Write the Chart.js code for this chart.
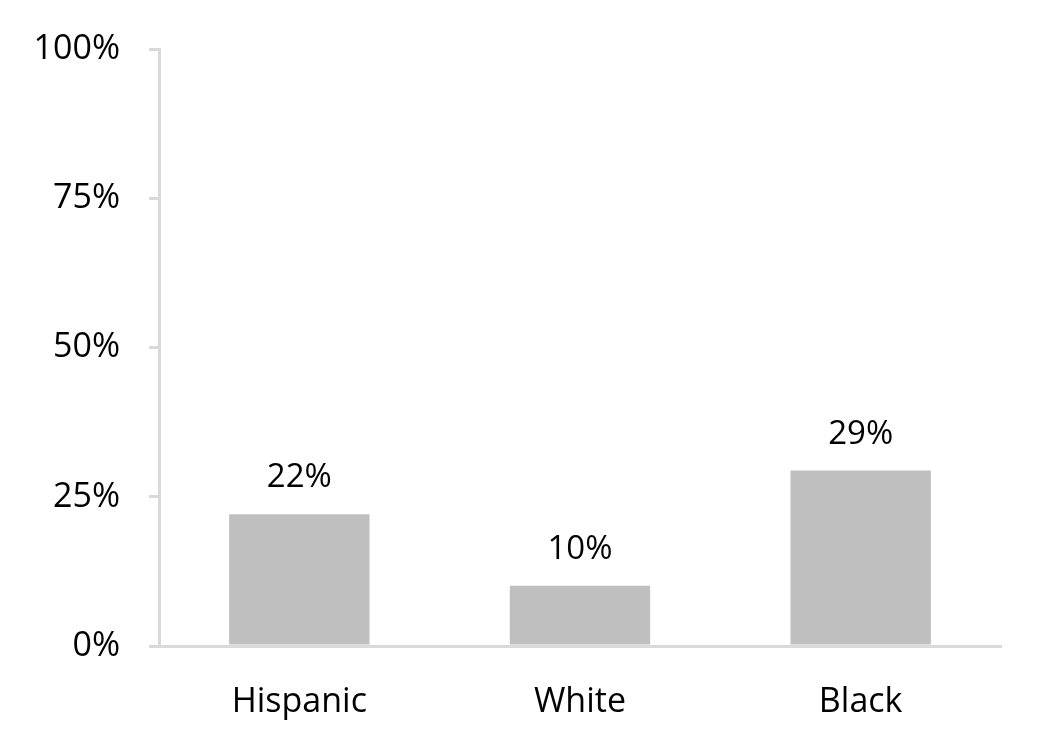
<!DOCTYPE html>
<html>
<head>
<meta charset="utf-8">
<script src="https://cdn.jsdelivr.net/npm/chart.js@4/dist/chart.umd.min.js"></script>
<style>
html,body{margin:0;padding:0;background:#fff;}
#wrap{width:1046px;height:747px;position:relative;}
</style>
</head>
<body>
<div id="wrap"><canvas id="c" width="1046" height="747"></canvas></div>
<script>
const categories = ["Hispanic", "White", "Black"];
const values = [22.1, 10.1, 29.4];
const valueLabels = ["22%", "10%", "29%"];
const yTicks = [0, 25, 50, 75, 100];

const FONT = "'Open Sans', sans-serif";
const AXIS = "#d9d9d9";

const labelPlugin = {
  id: "valueLabels",
  afterDatasetsDraw(chart) {
    const ctx = chart.ctx;
    const meta = chart.getDatasetMeta(0);
    ctx.save();
    ctx.font = "33px " + FONT;
    ctx.fillStyle = "#000";
    ctx.textAlign = "center";
    ctx.textBaseline = "alphabetic";
    meta.data.forEach((bar, i) => {
      ctx.fillText(valueLabels[i], bar.x, bar.y - 27);
    });
    ctx.restore();
  }
};

new Chart(document.getElementById("c"), {
  type: "bar",
  data: {
    labels: categories,
    datasets: [{
      data: values,
      backgroundColor: "#bfbfbf",
      borderWidth: 0,
      barPercentage: 0.5,
      categoryPercentage: 1.0
    }]
  },
  options: {
    responsive: false,
    animation: false,
    devicePixelRatio: 1,
    layout: { padding: { left: 0, right: 45, top: 47, bottom: 0 } },
    plugins: { legend: { display: false }, tooltip: { enabled: false } },
    scales: {
      x: {
        grid: { display: false, drawTicks: false },
        border: { display: true, color: AXIS, width: 3 },
        ticks: { color: "#000", font: { family: FONT, size: 34 }, padding: 36 },
        afterFit(s) { s.height = 101; }
      },
      y: {
        min: 0, max: 100,
        afterBuildTicks(s) { s.ticks = yTicks.map(v => ({ value: v })); },
        grid: { drawOnChartArea: false, drawTicks: true, tickLength: 10, color: AXIS, lineWidth: 3 },
        border: { display: true, color: AXIS, width: 3 },
        ticks: { color: "#000", font: { family: FONT, size: 34 }, padding: 29,
                 callback: v => v + "%" },
        afterFit(s) { s.width = 159; }
      }
    }
  },
  plugins: [labelPlugin]
});
</script>
</body>
</html>
